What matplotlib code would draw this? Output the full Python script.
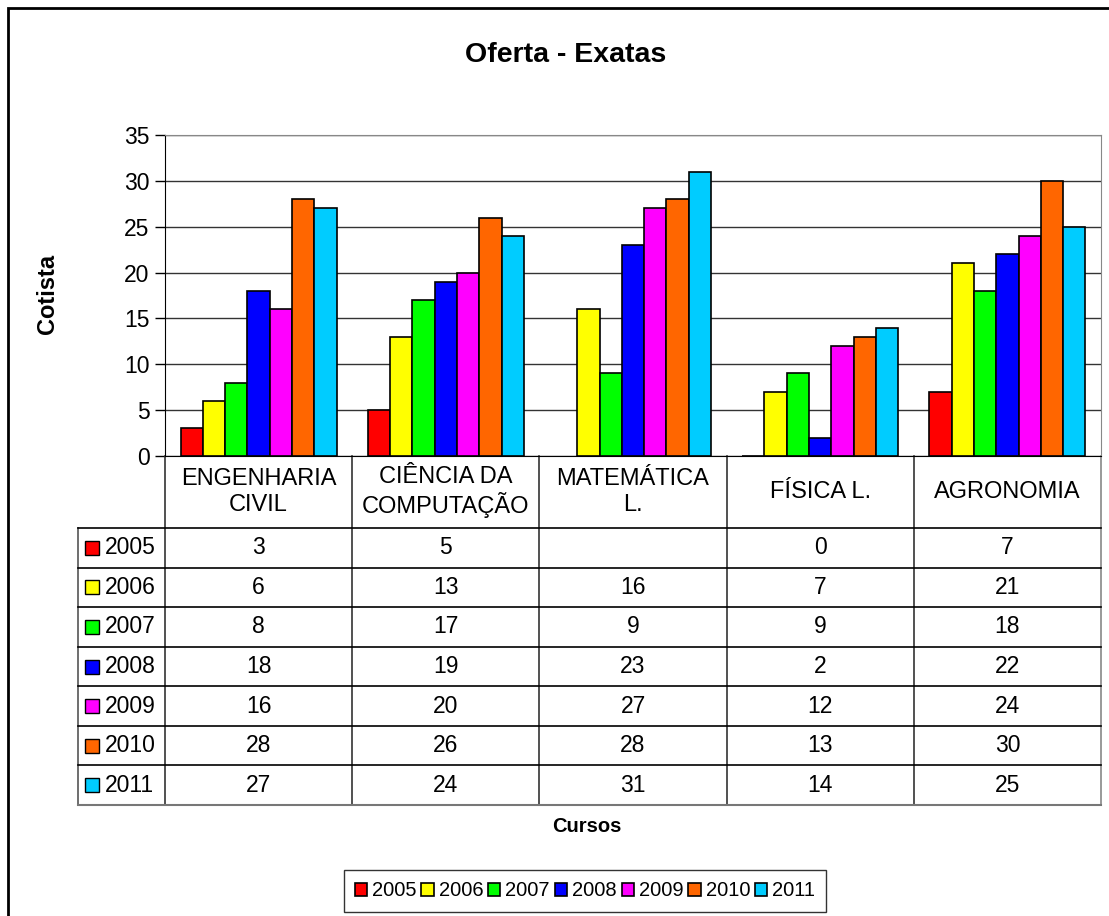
import numpy as np
import matplotlib
matplotlib.use("Agg")
import matplotlib.pyplot as plt
import matplotlib.transforms as mtransforms
from matplotlib.patches import Rectangle

plt.rcParams['font.family'] = ['Liberation Sans', 'DejaVu Sans']

# chart data
cursos = ["ENGENHARIA\nCIVIL", "CIÊNCIA DA\nCOMPUTAÇÃO", "MATEMÁTICA\nL.", "FÍSICA L.", "AGRONOMIA"]
anos = ["2005", "2006", "2007", "2008", "2009", "2010", "2011"]
v2005 = [3, 5, None, 0, 7]
v2006 = [6, 13, 16, 7, 21]
v2007 = [8, 17, 9, 9, 18]
v2008 = [18, 19, 23, 2, 22]
v2009 = [16, 20, 27, 12, 24]
v2010 = [28, 26, 28, 13, 30]
v2011 = [27, 24, 31, 14, 25]
cores = ["#ff0000", "#ffff00", "#00ff00", "#0000ff", "#ff00ff", "#ff6600", "#00ccff"]
y_ticks = [0, 5, 10, 15, 20, 25, 30, 35]

series = [v2005, v2006, v2007, v2008, v2009, v2010, v2011]

W, H = 1109, 916
fig = plt.figure(figsize=(W / 100, H / 100), dpi=100)

# outer chart border (right/bottom run off the picture)
fig.patches.append(Rectangle((8 / W, -0.05), 1.2, 1 - 8 / H + 0.05, transform=fig.transFigure,
                             fill=False, edgecolor='black', linewidth=2))

# plot area in pixels: x 165..1101, y 135..456
ax = fig.add_axes([165 / W, 1 - 456 / H, 936 / W, 321 / H])
x = np.arange(len(cursos))
bw = 0.834 / len(anos)
bars = []
for i, (ano, vals, c) in enumerate(zip(anos, series, cores)):
    hv = [np.nan if v is None else v for v in vals]
    b = ax.bar(x + (i - 3) * bw, hv, bw, color=c, edgecolor='black', linewidth=1.2,
               label=ano, zorder=3)
    bars.append(b)

ax.set_xlim(-0.5, 4.5)
ax.set_ylim(0, 35)
ax.set_yticks(y_ticks)
ax.set_xticks([])
ax.tick_params(axis='y', labelsize=16.5, length=7, width=1, pad=4, direction='out')
ax.grid(axis='y', color='#333333', linewidth=1, zorder=0)
for side in ['top', 'right']:
    ax.spines[side].set_color('#888888')
ax.spines['left'].set_color('black')
ax.spines['bottom'].set_color('black')

# data table under the plot (x in data units, y in axes fraction)
tr = mtransforms.blended_transform_factory(ax.transData, ax.transAxes)
px = 5 / 936
left_x = -0.5 - 87 * px
hdr_bot = -(528 - 456) / 321
row_h = (805 - 528) / 7 / 321
tbl_bot = hdr_bot - 7 * row_h

for xv in [-0.5, 0.5, 1.5, 2.5, 3.5]:
    ax.plot([xv, xv], [0, tbl_bot], color='#333333', lw=1.2, transform=tr, clip_on=False)
ax.plot([4.5, 4.5], [0, tbl_bot], color='#888888', lw=1.2, transform=tr, clip_on=False)
ax.plot([left_x, left_x], [hdr_bot, tbl_bot], color='#555555', lw=1.2, transform=tr, clip_on=False)
for r in range(7):
    yv = hdr_bot - r * row_h
    ax.plot([left_x, 4.5], [yv, yv], color='black', lw=1.2, transform=tr, clip_on=False)
ax.plot([left_x, 4.5], [tbl_bot, tbl_bot], color='#777777', lw=1.5, transform=tr, clip_on=False)

for j, nome in enumerate(cursos):
    ax.text(j, hdr_bot / 2, nome, transform=tr, ha='center', va='center', fontsize=17,
            linespacing=1.2)

for i, (ano, vals, c) in enumerate(zip(anos, series, cores)):
    yc = hdr_bot - (i + 0.5) * row_h
    ax.plot([left_x + 13.5 * px], [yc], marker='s', markersize=9.5, markerfacecolor=c,
            markeredgecolor='black', markeredgewidth=1, transform=tr, clip_on=False)
    ax.text(left_x + 27 * px, yc, ano, transform=tr, ha='left', va='center', fontsize=16.5)
    for j, v in enumerate(vals):
        if v is not None:
            ax.text(j, yc, str(v), transform=tr, ha='center', va='center', fontsize=16.5)

fig.text(566 / W, 1 - 55 / H, "Oferta - Exatas", ha='center', va='center',
         fontsize=20.5, fontweight='bold')
fig.text(47 / W, 1 - 294 / H, "Cotista", ha='center', va='center', rotation=90,
         fontsize=17, fontweight='bold')
fig.text(587 / W, 1 - 826 / H, "Cursos", ha='center', va='center',
         fontsize=14.5, fontweight='bold')

leg = fig.legend(handles=bars, labels=anos, loc='center', ncol=7,
                 bbox_to_anchor=(585 / W, 1 - 891 / H), fontsize=14.5,
                 frameon=True, fancybox=False, edgecolor='black',
                 handlelength=0.6, handleheight=0.6, handletextpad=0.25,
                 columnspacing=0.25, borderpad=0.55, borderaxespad=0)
leg.get_frame().set_linewidth(1)

fig.savefig("out.png", dpi=100)
